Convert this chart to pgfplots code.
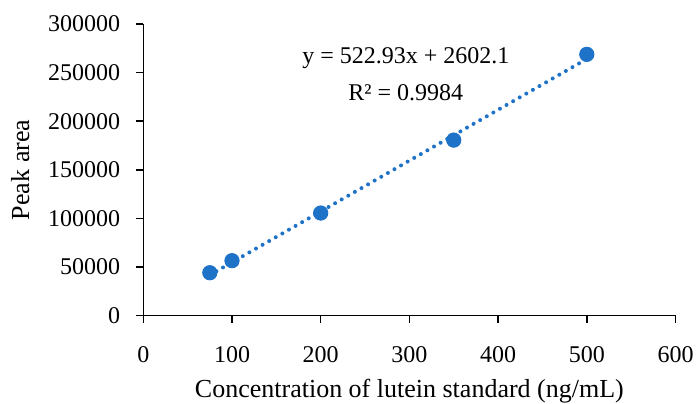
\documentclass[border=0pt]{standalone}
\usepackage{pgfplots}
\pgfplotsset{compat=1.18}
\usepackage{fontspec}
\setmainfont{Liberation Serif}
\definecolor{xlblue}{RGB}{30,114,200}
\begin{document}
\begin{tikzpicture}
\useasboundingbox (0,0) rectangle (348.5pt,201.5pt);
\begin{axis}[
  at={(71.65pt,43.65pt)}, anchor=south west,
  scale only axis, width=266.1pt, height=145.85pt,
  xmin=0, xmax=600, ymin=0, ymax=300000,
  xtick={0,100,...,600}, ytick={0,50000,...,300000},
  axis x line=bottom, axis y line=left,
  axis line style={-, black, line width=0.75pt},
  tick align=outside, major tick length=3.5pt,
  tick style={black, line width=0.75pt},
  scaled ticks=false,
  /pgf/number format/fixed,
  /pgf/number format/1000 sep={},
  /pgf/number format/assume math mode=true,
  font=\fontsize{12}{14}\selectfont,
  ticklabel style={font=\fontsize{12}{14}\selectfont},
  yticklabel style={xshift=-4.5pt},
  xticklabel style={yshift=-8.5pt},
  xlabel={Concentration of lutein standard (ng/mL)},
  ylabel={Peak area},
  label style={font=\fontsize{13}{15}\selectfont},
  xlabel style={yshift=-1pt},
  ylabel style={yshift=2.5pt},
  clip=false,
]
\addplot[xlblue, line width=2pt, line cap=round, dash pattern=on 0pt off 3.8pt] coordinates {(75,41821.85) (500,264067.1)};
\addplot[only marks, mark=*, mark size=3.6pt, color=xlblue] coordinates {
(75,44200) (100,56600) (200,105600) (350,180600) (500,268800)};
\node[font=\fontsize{12}{14}\selectfont] at (axis cs:296,265000) {y = 522.93x + 2602.1};
\node[font=\fontsize{12}{14}\selectfont] at (axis cs:296,229300) {R² = 0.9984};
\end{axis}
\end{tikzpicture}
\end{document}
